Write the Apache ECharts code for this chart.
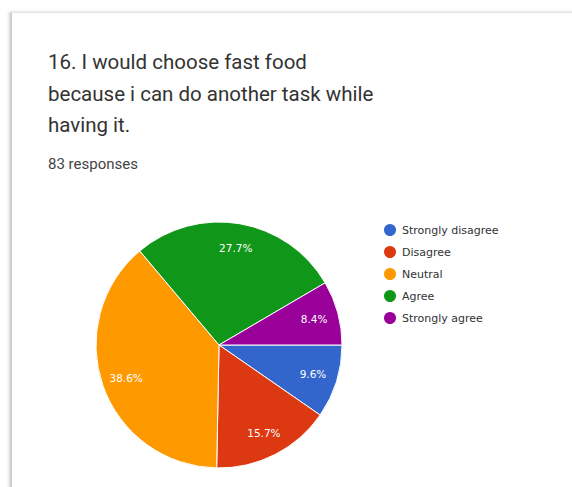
<!DOCTYPE html>
<html>
<head>
<meta charset="utf-8">
<script src="https://cdn.jsdelivr.net/npm/echarts@6/dist/echarts.min.js"></script>
<style>
  html, body { margin: 0; padding: 0; width: 572px; height: 487px; background: #fff; overflow: hidden; }
  .card {
    position: absolute; left: 10px; top: 12px; width: 620px; height: 520px;
    background: #fff; border-left: 2px solid #cfcfcf; border-top: 1px solid #e6e6e6;
    box-shadow: -1px 0 3px rgba(0,0,0,0.18);
  }
  .title {
    position: absolute; left: 48px; top: 47px; width: 430px;
    font-family: Roboto, "Noto Sans", sans-serif; font-size: 20.5px; line-height: 31.5px; color: #333;
  }
  .sub {
    position: absolute; left: 48px; top: 155px;
    font-family: Roboto, "Noto Sans", sans-serif; font-size: 15px; color: #444;
  }
  #chart { position: absolute; left: 0; top: 0; width: 572px; height: 487px; }
</style>
</head>
<body>
<div class="card"></div>
<div class="title">16. I would choose fast food<br>because i can do another task while<br>having it.</div>
<div class="sub">83 responses</div>
<div id="chart"></div>
<script>
// Answer options and response counts (83 total)
const categories = ['Strongly disagree', 'Disagree', 'Neutral', 'Agree', 'Strongly agree'];
const counts = [8, 13, 32, 23, 7];
const colors = ['#3366cc', '#dc3912', '#ff9900', '#109618', '#990099'];

const slices = categories.map((name, i) => ({ name, value: counts[i], itemStyle: { color: colors[i] } }));

const chart = echarts.init(document.getElementById('chart'), null, { renderer: 'svg' });
chart.setOption({
  animation: false,
  legend: {
    orient: 'vertical',
    left: 382,
    top: 222,
    padding: 0,
    icon: 'circle',
    itemWidth: 14,
    itemHeight: 14,
    itemGap: 6,
    data: categories,
    textStyle: { fontFamily: '"DejaVu Sans", sans-serif', fontSize: 11, color: '#333', lineHeight: 14 }
  },
  series: [
    {
      type: 'pie',
      center: [219, 345],
      radius: 123,
      startAngle: 0,
      clockwise: true,
      silent: true,
      data: slices,
      itemStyle: { borderColor: '#fff', borderWidth: 1 },
      label: { show: false },
      labelLine: { show: false },
      emphasis: { disabled: true }
    },
    {
      // transparent ring that only carries the percentage labels
      type: 'pie',
      center: [219, 345],
      radius: [68, 123],
      startAngle: 0,
      clockwise: true,
      silent: true,
      percentPrecision: 1,
      data: categories.map((name, i) => ({ name, value: counts[i], itemStyle: { color: 'rgba(0,0,0,0)' } })),
      label: {
        show: true,
        position: 'inside',
        formatter: '{d}%',
        color: '#fff',
        fontFamily: '"DejaVu Sans", sans-serif',
        fontSize: 10.5
      },
      labelLine: { show: false },
      emphasis: { disabled: true }
    }
  ]
});
</script>
</body>
</html>
